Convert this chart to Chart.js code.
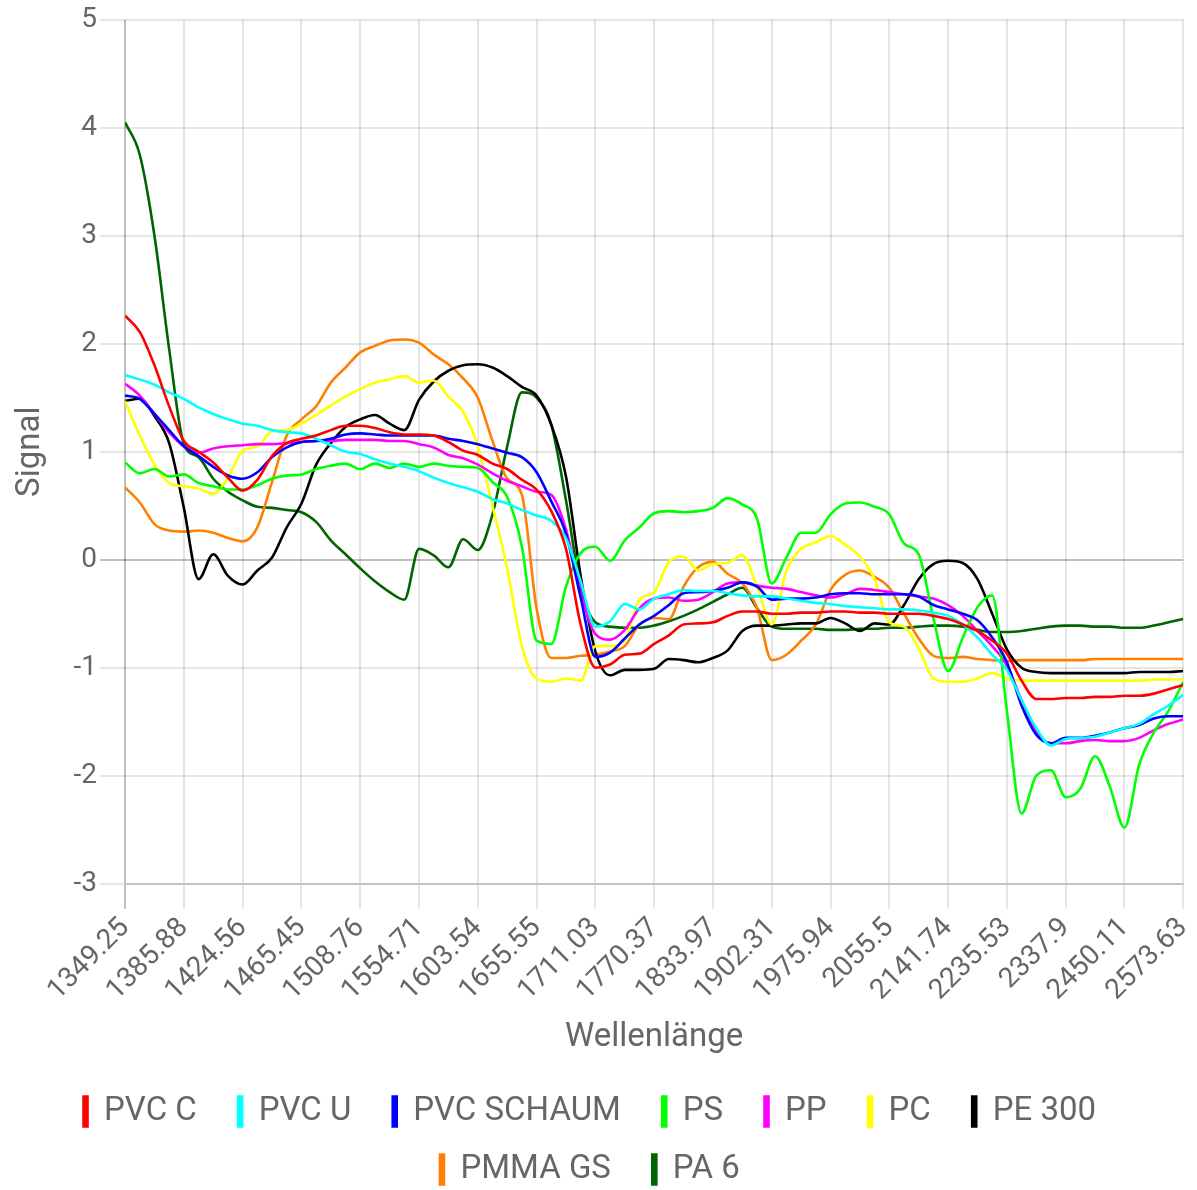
<!DOCTYPE html>
<html>
<head>
<meta charset="utf-8">
<script src="https://cdn.jsdelivr.net/npm/chart.js@4.4.1/dist/chart.umd.min.js"></script>
<style>
html, body { margin: 0; padding: 0; background: #fff; overflow: hidden; }
#wrap { width: 1210px; height: 1190px; }
</style>
</head>
<body>
<div id="wrap"><canvas id="chart"></canvas></div>
<script>
// wavelength labels shown under the x axis (one per grid line)
const tickLabels = ['1349.25', '1385.88', '1424.56', '1465.45', '1508.76', '1554.71', '1603.54',
    '1655.55', '1711.03', '1770.37', '1833.97', '1902.31', '1975.94', '2055.5', '2141.74',
    '2235.53', '2337.9', '2450.11', '2573.63'];

// values read at quarter steps between the labelled wavelengths
const step = 0.25;

const pvcC = [2.26, 2.11, 1.8, 1.42, 1.1,
    1.0, 0.9, 0.76, 0.64,  0.74, 0.96, 1.08, 1.12,  1.15, 1.2, 1.24, 1.24,
    1.22, 1.18, 1.16, 1.16,  1.15, 1.09, 1.01, 0.97,  0.89, 0.84, 0.74, 0.65,
    0.45, 0.1, -0.6, -1.0,  -0.97, -0.88, -0.87, -0.78,  -0.7, -0.6, -0.59, -0.58,
    -0.52, -0.48, -0.48, -0.5,  -0.5, -0.49, -0.49, -0.48,  -0.48, -0.49, -0.49, -0.5,
    -0.5, -0.5, -0.52, -0.55,  -0.6, -0.66, -0.75, -0.87,  -1.12, -1.29, -1.29, -1.28,
    -1.28, -1.27, -1.27, -1.26,  -1.26, -1.24, -1.2, -1.16];

const pvcU = [1.71, 1.67, 1.62, 1.55, 1.49,
    1.41, 1.35, 1.3, 1.26,  1.24, 1.2, 1.18, 1.17,  1.12, 1.06, 1.0, 0.98,
    0.93, 0.89, 0.86, 0.82,  0.76, 0.71, 0.67, 0.63,  0.56, 0.52, 0.46, 0.41,
    0.36, 0.2, -0.2, -0.62,  -0.57, -0.41, -0.46, -0.36,  -0.32, -0.28, -0.29, -0.29,
    -0.31, -0.33, -0.34, -0.34,  -0.36, -0.38, -0.4, -0.41,  -0.43, -0.44, -0.45, -0.46,
    -0.46, -0.47, -0.49, -0.52,  -0.6, -0.72, -0.88, -1.02,  -1.3, -1.56, -1.72, -1.66,
    -1.65, -1.64, -1.6, -1.56,  -1.52, -1.43, -1.35, -1.25];

const pvcSchaum = [1.52, 1.49, 1.35, 1.2, 1.05,
    0.96, 0.86, 0.78, 0.75,  0.81, 0.95, 1.04, 1.09,  1.1, 1.12, 1.16, 1.17,
    1.16, 1.15, 1.15, 1.15,  1.15, 1.12, 1.1, 1.07,  1.03, 0.99, 0.95, 0.81,
    0.54, 0.24, -0.35, -0.9,  -0.86, -0.73, -0.6, -0.52,  -0.42, -0.31, -0.3, -0.29,
    -0.26, -0.21, -0.25, -0.37,  -0.36, -0.36, -0.35, -0.32,  -0.31, -0.31, -0.32, -0.32,
    -0.32, -0.34, -0.42, -0.46,  -0.5, -0.56, -0.72, -0.95,  -1.35, -1.62, -1.7, -1.65,
    -1.65, -1.63, -1.6, -1.56,  -1.53, -1.47, -1.45, -1.45];

const ps = [0.9, 0.8, 0.84, 0.77, 0.79,
    0.71, 0.68, 0.65, 0.65,  0.69, 0.75, 0.78, 0.79,  0.84, 0.87, 0.89, 0.84,
    0.89, 0.85, 0.89, 0.86,  0.89, 0.87, 0.86, 0.85,  0.72, 0.58, 0.12, -0.75,
    -0.78, -0.25, 0.06, 0.12,  -0.01, 0.18, 0.3, 0.43,  0.45, 0.44, 0.45, 0.48,
    0.57, 0.51, 0.38, -0.22,  0.02, 0.25, 0.25, 0.42,  0.52, 0.53, 0.49, 0.42,
    0.15, 0.05, -0.54, -1.03,  -0.72, -0.44, -0.33, -1.4,  -2.35, -2.0, -1.95, -2.2,
    -2.12, -1.82, -2.1, -2.48,  -1.9, -1.6, -1.4, -1.13];

const pp = [1.63, 1.52, 1.35, 1.18, 1.05,
    0.99, 1.03, 1.05, 1.06,  1.07, 1.07, 1.08, 1.09,  1.1, 1.1, 1.11, 1.11,
    1.11, 1.1, 1.1, 1.07,  1.04, 0.97, 0.94, 0.88,  0.8, 0.73, 0.68, 0.63,
    0.6, 0.28, -0.3, -0.69,  -0.74, -0.65, -0.45, -0.36,  -0.35, -0.38, -0.37, -0.3,
    -0.22, -0.21, -0.24, -0.26,  -0.27, -0.3, -0.33, -0.35,  -0.32, -0.27, -0.28, -0.3,
    -0.32, -0.34, -0.36, -0.42,  -0.52, -0.66, -0.8, -0.98,  -1.3, -1.6, -1.7, -1.7,
    -1.68, -1.67, -1.68, -1.68,  -1.65, -1.58, -1.52, -1.48];

const pc = [1.47, 1.15, 0.88, 0.71, 0.68,
    0.66, 0.61, 0.76, 1.01,  1.05, 1.19, 1.2, 1.26,  1.34, 1.43, 1.51, 1.58,
    1.64, 1.67, 1.7, 1.64,  1.66, 1.51, 1.37, 1.05,  0.5, -0.08, -0.8, -1.1,
    -1.13, -1.1, -1.12, -0.8,  -0.8, -0.74, -0.37, -0.3,  -0.02, 0.03, -0.1, -0.04,
    -0.03, 0.04, -0.25, -0.6,  -0.1, 0.1, 0.16, 0.22,  0.14, 0.03, -0.18, -0.58,
    -0.62, -0.82, -1.1, -1.13,  -1.13, -1.1, -1.05, -1.1,  -1.12, -1.12, -1.12, -1.12,
    -1.12, -1.12, -1.12, -1.12,  -1.12, -1.11, -1.11, -1.11];

const pe300 = [1.47, 1.49, 1.33, 1.08, 0.48,
    -0.18, 0.05, -0.15, -0.23,  -0.1, 0.02, 0.3, 0.52,  0.88, 1.08, 1.23, 1.3,
    1.34, 1.26, 1.2, 1.48,  1.65, 1.75, 1.8, 1.81,  1.78, 1.7, 1.6, 1.52,
    1.25, 0.77, -0.15, -0.85,  -1.07, -1.02, -1.02, -1.01,  -0.92, -0.93, -0.95, -0.91,
    -0.84, -0.66, -0.61, -0.61,  -0.6, -0.59, -0.59, -0.54,  -0.59, -0.66, -0.59, -0.6,
    -0.42, -0.18, -0.04, -0.01,  -0.03, -0.18, -0.5, -0.83,  -1.0, -1.04, -1.05, -1.05,
    -1.05, -1.05, -1.05, -1.05,  -1.04, -1.04, -1.04, -1.03];

const pmmaGs = [0.67, 0.53, 0.33, 0.27, 0.26,
    0.27, 0.25, 0.2, 0.17,  0.3, 0.72, 1.15, 1.3,  1.42, 1.64, 1.78, 1.92,
    1.98, 2.03, 2.04, 2.01,  1.9, 1.81, 1.68, 1.5,  1.1, 0.75, 0.6, -0.45,
    -0.91, -0.91, -0.89, -0.88,  -0.85, -0.8, -0.6, -0.54,  -0.55, -0.25, -0.07, -0.02,
    -0.13, -0.22, -0.45, -0.93,  -0.88, -0.75, -0.6, -0.28,  -0.14, -0.1, -0.16, -0.26,
    -0.5, -0.73, -0.89, -0.91,  -0.9, -0.92, -0.93, -0.94,  -0.93, -0.93, -0.93, -0.93,
    -0.93, -0.92, -0.92, -0.92,  -0.92, -0.92, -0.92, -0.92];

const pa6 = [4.05, 3.75, 3.0, 1.95, 1.07,
    0.95, 0.75, 0.63, 0.55,  0.49, 0.48, 0.46, 0.44,  0.35, 0.18, 0.05, -0.08,
    -0.2, -0.3, -0.37, 0.1,  0.04, -0.07, 0.19, 0.09,  0.42, 1.05, 1.55, 1.5,
    1.25, 0.55, -0.25, -0.58,  -0.62, -0.63, -0.63, -0.61,  -0.57, -0.52, -0.46, -0.39,
    -0.32, -0.26, -0.45, -0.62,  -0.64, -0.64, -0.64, -0.65,  -0.65, -0.64, -0.64, -0.63,
    -0.63, -0.62, -0.61, -0.61,  -0.62, -0.65, -0.67, -0.67,  -0.66, -0.64, -0.62, -0.61,
    -0.61, -0.62, -0.62, -0.63,  -0.63, -0.61, -0.58, -0.55];

const seriesNames = ['PVC C', 'PVC U', 'PVC SCHAUM', 'PS', 'PP', 'PC', 'PE 300', 'PMMA GS', 'PA 6'];
const seriesValues = [pvcC, pvcU, pvcSchaum, ps, pp, pc, pe300, pmmaGs, pa6];
const seriesColors = ['#ff0000', '#00ffff', '#0000ff', '#00ff00', '#ff00ff', '#ffff00', '#000000', '#ff8000', '#006400'];

Chart.defaults.font.family = 'Roboto';
Chart.defaults.color = '#666';

const gridColor = 'rgba(0,0,0,0.1)';
const zeroColor = 'rgba(0,0,0,0.25)';
const defaultLegendLabels = Chart.defaults.plugins.legend.labels.generateLabels;

new Chart(document.getElementById('chart'), {
    type: 'line',
    data: {
        datasets: seriesNames.map((name, k) => ({
            label: name,
            data: seriesValues[k].map((y, i) => ({ x: i * step, y })),
            borderColor: seriesColors[k],
            backgroundColor: seriesColors[k],
            borderWidth: 2.6,
            pointRadius: 0,
            fill: false,
            cubicInterpolationMode: 'monotone'
        }))
    },
    options: {
        responsive: true,
        maintainAspectRatio: false,
        animation: false,
        layout: { padding: { left: 4, right: 18, top: 8, bottom: -6 } },
        plugins: {
            legend: {
                position: 'bottom',
                labels: {
                    font: { size: 33 },
                    boxWidth: 4,
                    boxHeight: 30,
                    padding: 25,
                    color: '#666',
                    // trailing spaces widen the gap between items a little
                    generateLabels: chart => defaultLegendLabels(chart).map(l => ({ ...l, text: l.text + '  ' }))
                }
            },
            tooltip: { enabled: false }
        },
        scales: {
            x: {
                type: 'linear',
                min: 0,
                max: tickLabels.length - 1,
                grid: {
                    color: c => c.tick && c.tick.value === 0 ? zeroColor : gridColor,
                    lineWidth: 2,
                    tickLength: 25
                },
                border: { color: 'rgba(0,0,0,0.15)', width: 2 },
                ticks: {
                    stepSize: 1,
                    autoSkip: false,
                    minRotation: 45,
                    maxRotation: 45,
                    font: { size: 28 },
                    callback: v => tickLabels[v]
                },
                title: { display: true, text: 'Wellenlänge', font: { size: 33 }, padding: { top: 8, bottom: 12 } }
            },
            y: {
                min: -3,
                max: 5,
                grid: {
                    color: c => c.tick && c.tick.value === 0 ? zeroColor : gridColor,
                    lineWidth: 2,
                    tickLength: 25
                },
                border: { display: false },
                ticks: { stepSize: 1, font: { size: 28 } },
                title: { display: true, text: 'Signal', font: { size: 33 }, padding: { top: 7, bottom: 20 } }
            }
        }
    }
});
</script>
</body>
</html>
